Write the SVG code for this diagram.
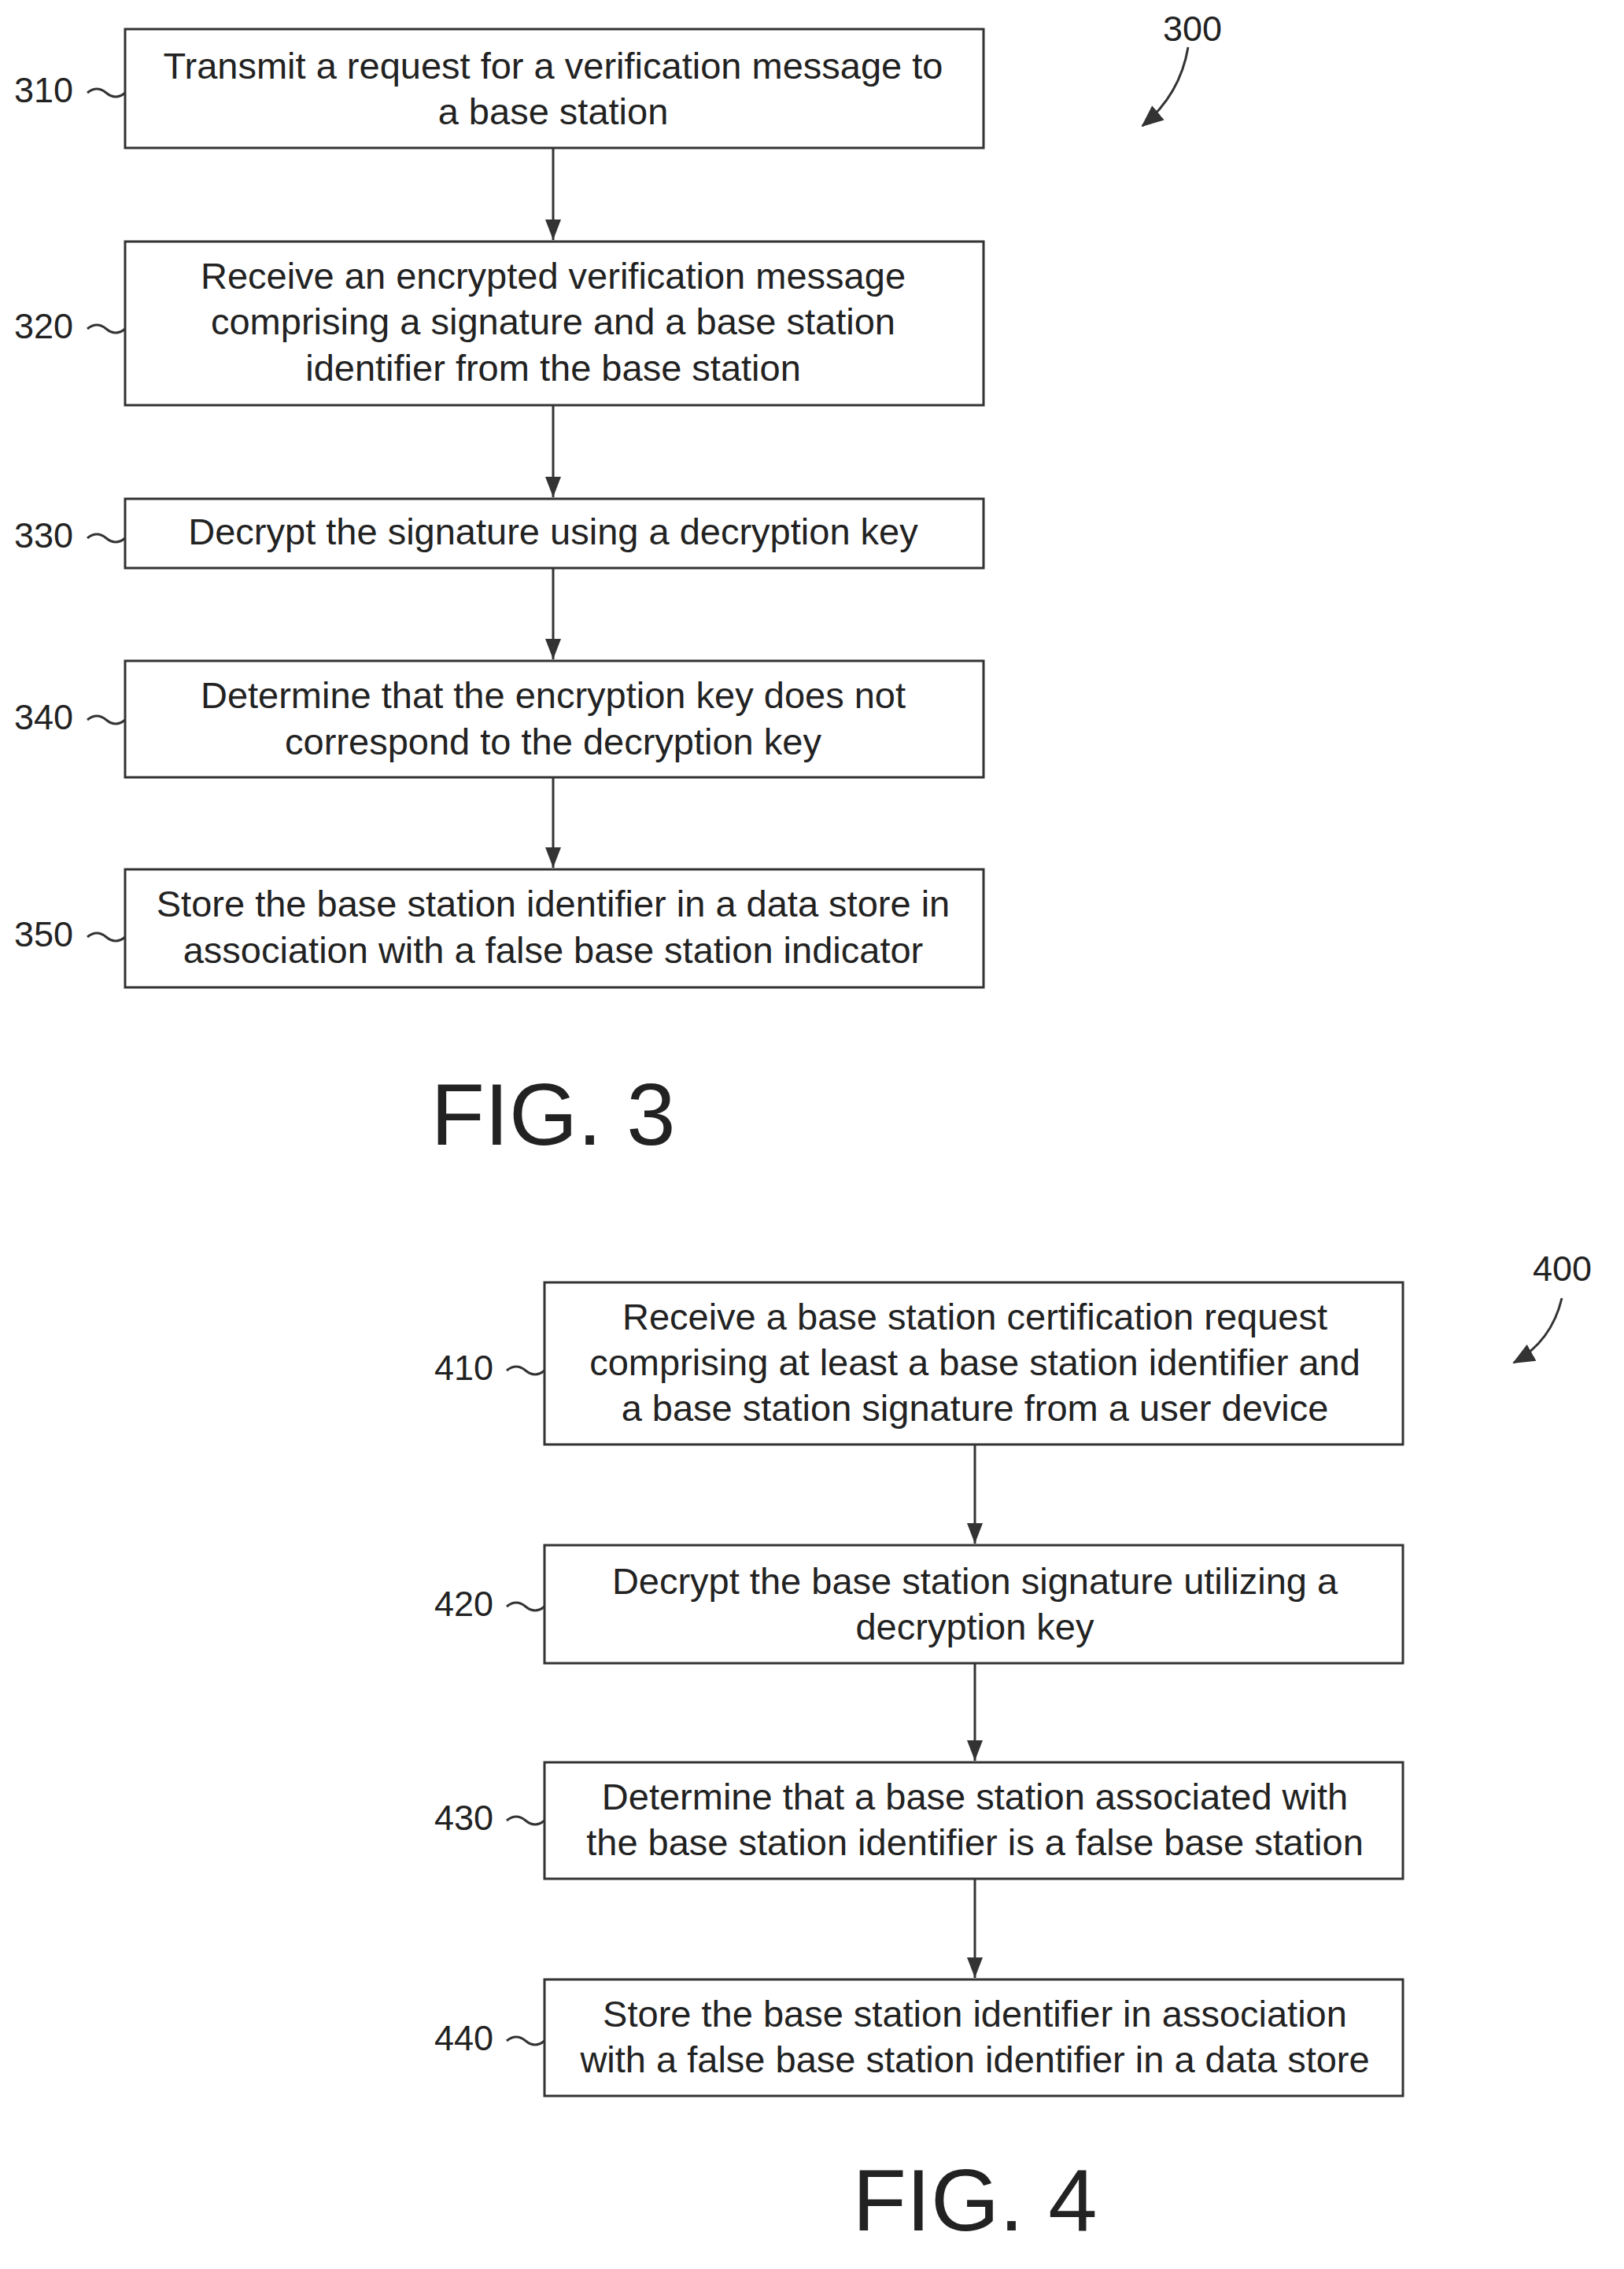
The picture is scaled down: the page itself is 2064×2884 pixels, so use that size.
<svg xmlns="http://www.w3.org/2000/svg" width="2064" height="2884" viewBox="0 0 2064 2884">
<style>
.b{fill:#fff;stroke:#333;stroke-width:3}
.t{font-family:"Liberation Sans",Arial,sans-serif;font-size:47px;fill:#222;text-anchor:middle}
.l{font-family:"Liberation Sans",Arial,sans-serif;font-size:45px;fill:#222}
.c{fill:none;stroke:#333;stroke-width:3}
.f{font-family:"Liberation Sans",Arial,sans-serif;font-size:112px;fill:#222;text-anchor:middle}
</style>
<defs><marker id="a" markerWidth="26" markerHeight="20" refX="26" refY="10" orient="auto" markerUnits="userSpaceOnUse" viewBox="0 0 26 20"><path d="M0,0 L26,10 L0,20 Z" fill="#333"/></marker>
<marker id="a2" markerWidth="28" markerHeight="24" refX="26" refY="12" orient="auto" markerUnits="userSpaceOnUse" viewBox="0 0 28 24"><path d="M0,0 L28,12 L0,24 Z" fill="#333"/></marker></defs>
<rect width="2064" height="2884" fill="#fff"/>
<g id="connectors">
<path class="c" marker-end="url(#a)" d="M703,188 V305"/>
<path class="c" marker-end="url(#a)" d="M703,515 V632"/>
<path class="c" marker-end="url(#a)" d="M703,722 V838"/>
<path class="c" marker-end="url(#a)" d="M703,988 V1103"/>
<path class="c" marker-end="url(#a)" d="M1239,1836 V1962"/>
<path class="c" marker-end="url(#a)" d="M1239,2114 V2238"/>
<path class="c" marker-end="url(#a)" d="M1239,2388 V2514"/>
<path class="c" marker-end="url(#a2)" d="M1510,60 Q1500,120 1452,160"/>
<path class="c" marker-end="url(#a2)" d="M1985,1650 Q1972,1705 1924,1732"/>
</g>
<g id="n310"><rect class="b" x="159" y="37" width="1091" height="151"/>
<text class="t" x="703" y="100">Transmit a request for a verification message to</text><text class="t" x="703" y="158">a base station</text>
<text class="l" x="18" y="130">310</text><path class="c" d="M111,118 q12,-10 24,0 t24,0"/></g>
<g id="n320"><rect class="b" x="159" y="307" width="1091" height="208"/>
<text class="t" x="703" y="367">Receive an encrypted verification message</text><text class="t" x="703" y="425">comprising a signature and a base station</text><text class="t" x="703" y="484">identifier from the base station</text>
<text class="l" x="18" y="430">320</text><path class="c" d="M111,418 q12,-10 24,0 t24,0"/></g>
<g id="n330"><rect class="b" x="159" y="634" width="1091" height="88"/>
<text class="t" x="703" y="692">Decrypt the signature using a decryption key</text>
<text class="l" x="18" y="696">330</text><path class="c" d="M111,684 q12,-10 24,0 t24,0"/></g>
<g id="n340"><rect class="b" x="159" y="840" width="1091" height="148"/>
<text class="t" x="703" y="900">Determine that the encryption key does not</text><text class="t" x="703" y="959">correspond to the decryption key</text>
<text class="l" x="18" y="927">340</text><path class="c" d="M111,915 q12,-10 24,0 t24,0"/></g>
<g id="n350"><rect class="b" x="159" y="1105" width="1091" height="150"/>
<text class="t" x="703" y="1165">Store the base station identifier in a data store in</text><text class="t" x="703" y="1224">association with a false base station indicator</text>
<text class="l" x="18" y="1203">350</text><path class="c" d="M111,1191 q12,-10 24,0 t24,0"/></g>
<text class="l" x="1478" y="52">300</text>
<text class="f" x="703" y="1455">FIG. 3</text>
<g id="n410"><rect class="b" x="692" y="1630" width="1091" height="206"/>
<text class="t" x="1239" y="1690">Receive a base station certification request</text><text class="t" x="1239" y="1748">comprising at least a base station identifier and</text><text class="t" x="1239" y="1806">a base station signature from a user device</text>
<text class="l" x="552" y="1754">410</text><path class="c" d="M644,1742 q12,-10 24,0 t24,0"/></g>
<g id="n420"><rect class="b" x="692" y="1964" width="1091" height="150"/>
<text class="t" x="1239" y="2026">Decrypt the base station signature utilizing a</text><text class="t" x="1239" y="2084">decryption key</text>
<text class="l" x="552" y="2054">420</text><path class="c" d="M644,2042 q12,-10 24,0 t24,0"/></g>
<g id="n430"><rect class="b" x="692" y="2240" width="1091" height="148"/>
<text class="t" x="1239" y="2300">Determine that a base station associated with</text><text class="t" x="1239" y="2358">the base station identifier is a false base station</text>
<text class="l" x="552" y="2326">430</text><path class="c" d="M644,2314 q12,-10 24,0 t24,0"/></g>
<g id="n440"><rect class="b" x="692" y="2516" width="1091" height="148"/>
<text class="t" x="1239" y="2576">Store the base station identifier in association</text><text class="t" x="1239" y="2634">with a false base station identifier in a data store</text>
<text class="l" x="552" y="2606">440</text><path class="c" d="M644,2594 q12,-10 24,0 t24,0"/></g>
<text class="l" x="1948" y="1628">400</text>
<text class="f" x="1239" y="2835">FIG. 4</text>
</svg>
